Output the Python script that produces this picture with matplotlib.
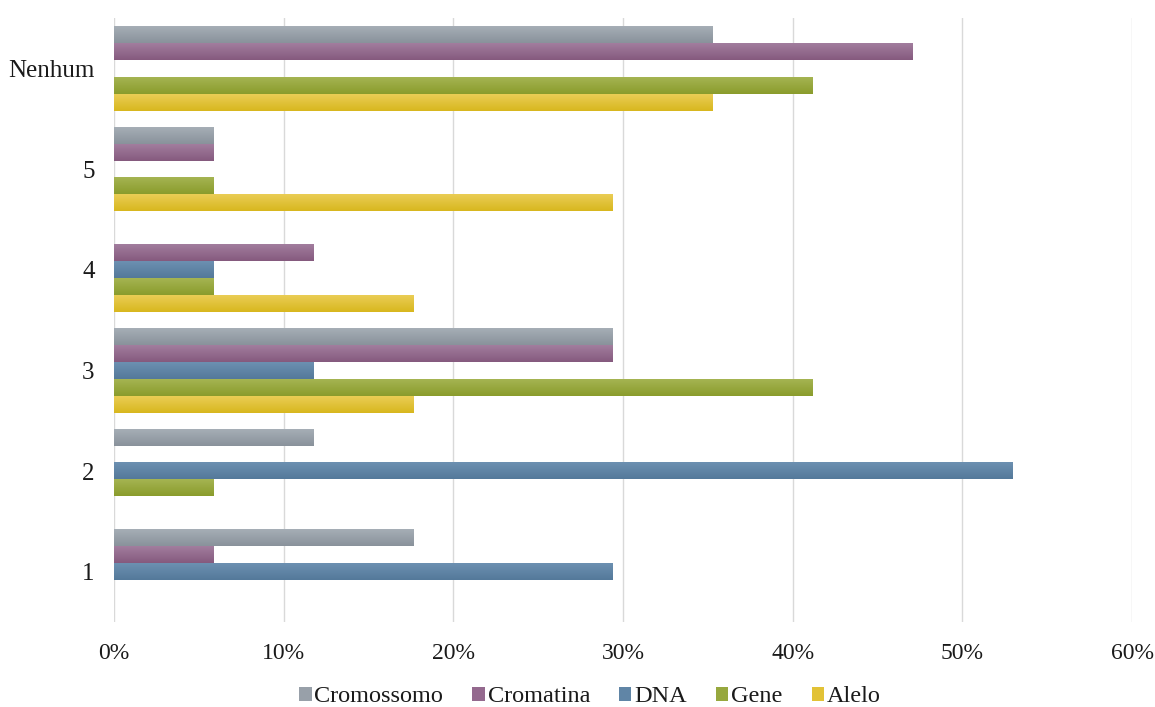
import matplotlib
matplotlib.use("Agg")
import matplotlib.pyplot as plt
import numpy as np
from matplotlib.colors import LinearSegmentedColormap
from matplotlib.patches import Patch
from matplotlib.ticker import FuncFormatter

categories = ["1", "2", "3", "4", "5", "Nenhum"]
series = ["Cromossomo", "Cromatina", "DNA", "Gene", "Alelo"]
cromossomo = [17.65, 11.76, 29.41, 0.0, 5.88, 35.29]
cromatina = [5.88, 0.0, 29.41, 11.76, 5.88, 47.06]
dna = [29.41, 52.94, 11.76, 5.88, 0.0, 0.0]
gene = [0.0, 5.88, 41.18, 5.88, 5.88, 41.18]
alelo = [0.0, 0.0, 17.65, 17.65, 29.41, 35.29]
values = [cromossomo, cromatina, dna, gene, alelo]

top_colors = ["#a6aeb6", "#a27d9e", "#6c90b1", "#a5b452", "#eacd55"]
bot_colors = ["#89929b", "#855a7e", "#54799a", "#8a9c2c", "#d8b71e"]
mid_colors = ["#98a0a9", "#94698e", "#6085a6", "#97a83e", "#e2c236"]

plt.rcParams["font.family"] = ["Liberation Serif", "DejaVu Serif"]

fig = plt.figure(figsize=(11.55, 7.07), dpi=100)
ax = fig.add_axes([114 / 1155, 1 - 622 / 707, (1132 - 114) / 1155, (622 - 18) / 707])

n = len(series)
h = 0.168
y = np.arange(len(categories))
for i, (name, vals) in enumerate(zip(series, values)):
    offs = (n - 1) / 2 * h - i * h
    bars = ax.barh(y + offs, vals, height=h, color=mid_colors[i], label=name, zorder=2)
    cmap = LinearSegmentedColormap.from_list(name, [bot_colors[i], top_colors[i]])
    grad = np.linspace(1, 0, 64).reshape(-1, 1)
    for b in bars:
        w = b.get_width()
        if w <= 0:
            continue
        x0, y0 = b.get_x(), b.get_y()
        ax.imshow(grad, extent=[x0, x0 + w, y0, y0 + b.get_height()], aspect="auto",
                  cmap=cmap, vmin=0, vmax=1, zorder=3, interpolation="bilinear")

ax.set_xlim(0, 60)
ax.set_ylim(-0.5, len(categories) - 0.5)
ax.set_xticks(np.arange(0, 61, 10))
ax.xaxis.set_major_formatter(FuncFormatter(lambda v, p: f"{int(v)}%"))
ax.set_yticks(y)
ax.set_yticklabels(categories)
ax.tick_params(axis="both", length=0, colors="#1a1a1a")
ax.tick_params(axis="x", pad=15, labelsize=17)
ax.tick_params(axis="y", pad=14, labelsize=18)
ax.grid(axis="x", color="#d9d9d9", linewidth=1, zorder=0)
ax.set_axisbelow(True)
for s in ax.spines.values():
    s.set_visible(False)

handles = [Patch(facecolor=mid_colors[i], label=series[i]) for i in range(n)]
fig.legend(handles=handles, loc="center", bbox_to_anchor=(590 / 1155, 1 - 697 / 707), ncol=5,
           frameon=False, fontsize=17.5, handlelength=0.5, handleheight=0.5,
           handletextpad=0.12, columnspacing=1.2, labelcolor="#1a1a1a",
           borderpad=0, borderaxespad=0)

fig.savefig("out.png", dpi=100)
